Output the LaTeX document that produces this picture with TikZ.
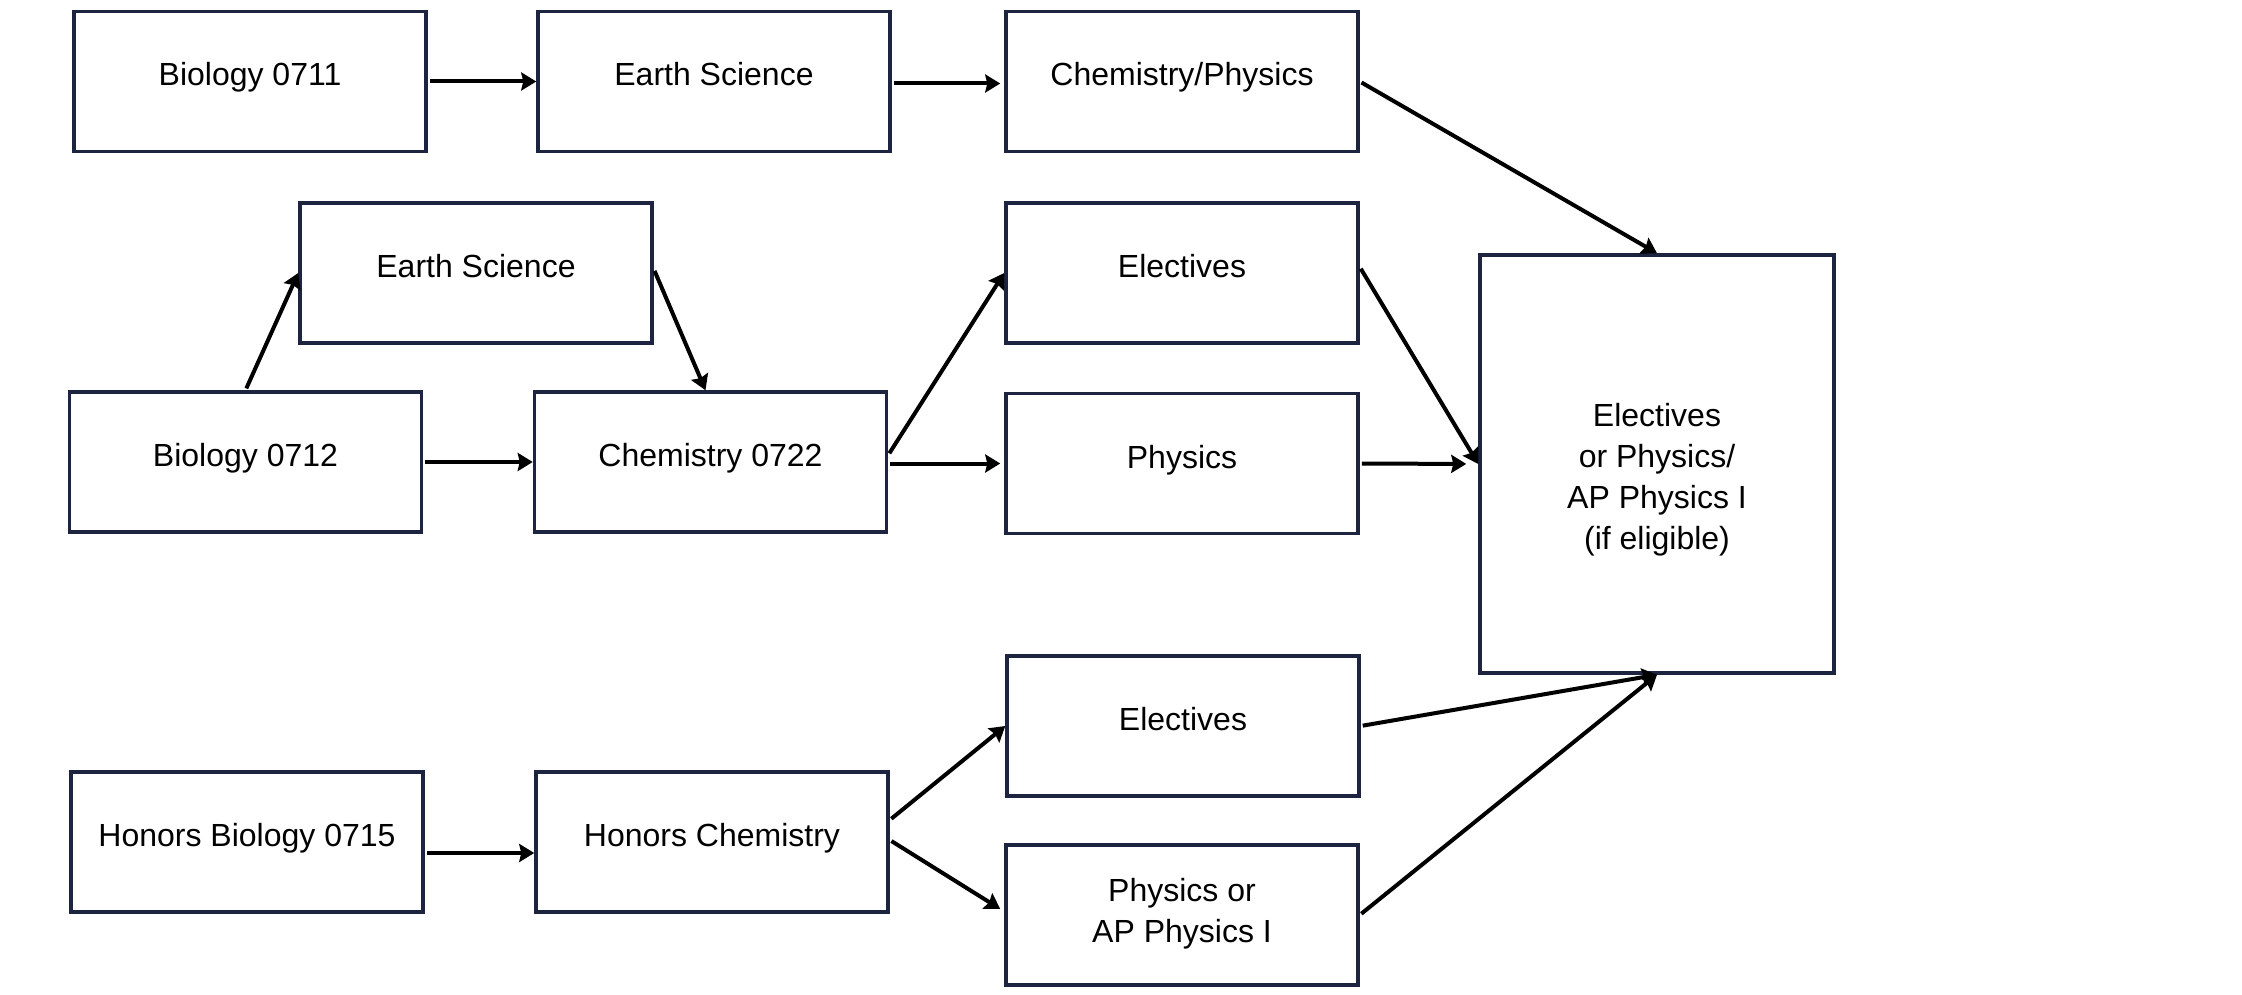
\documentclass[tikz,border=0pt]{standalone}
\usepackage{fontspec}
\setmainfont{Liberation Sans}
\usetikzlibrary{arrows.meta,calc}
\definecolor{navy}{RGB}{28,36,64}
\begin{document}
\begin{tikzpicture}[x=1pt,y=-1pt,
  box/.style={draw=navy,line width=3.5pt,minimum width=352pt,minimum height=140pt,
    inner sep=0pt,align=center,font=\fontsize{32}{41}\selectfont,text=black,
    text height=23pt,text depth=14pt},
  arr/.style={draw=black,line width=4pt,-{Stealth[length=15pt,width=18pt,inset=2pt]},shorten <=2pt}]
\useasboundingbox (0,0) rectangle (2242,995);
\node[box] (b1) at (250,81.5) {Biology 0711};
\node[box] (es1) at (714,81.5) {Earth Science};
\node[box] (cp) at (1182,81.5) {Chemistry/Physics};
\node[box] (es2) at (476,273) {Earth Science};
\node[box] (el1) at (1182,273) {Electives};
\node[box] (b2) at (245.5,462) {Biology 0712};
\node[box] (c2) at (710.5,462) {Chemistry 0722};
\node[box] (ph) at (1182,463.5) {Physics};
\node[box,minimum width=354pt,minimum height=418pt,text height=178pt,text depth=7pt] (big) at (1657,464) {Electives\\or Physics/\\AP Physics I\\(if eligible)};
\node[box] (el2) at (1183,726) {Electives};
\node[box] (hb) at (247,842) {Honors Biology 0715};
\node[box] (hc) at (712,842) {Honors Chemistry};
\node[box,text height=64.5pt,text depth=9pt] (pap) at (1182,915) {Physics or\\AP Physics I};

\draw[arr] (b1.east) -- (es1.west);
\draw[arr] ([yshift=-2pt]es1.east) -- ([xshift=-4pt,yshift=-2pt]cp.west);
\draw[arr] (cp.east) -- (big.north);
\draw[arr] (b2.north) -- (es2.west);
\draw[arr] ([yshift=4pt]es2.east) -- ([xshift=-5pt]c2.north);
\draw[arr] (b2.east) -- (c2.west);
\draw[arr] ([yshift=7pt]c2.east) -- (el1.west);
\draw[arr] (c2.east |- ph.west) -- ([xshift=-4pt]ph.west);
\draw[arr] ([yshift=6pt]el1.east) -- (big.west);
\draw[arr,shorten >=12pt] (ph.east) -- (big.west);
\draw[arr] (el2.east) -- (big.south);
\draw[arr] ([yshift=-11pt]hb.east) -- ([yshift=-11pt]hc.west);
\draw[arr] ([yshift=22pt]hc.east) -- (el2.west);
\draw[arr] ([yshift=2pt]hc.east) -- ([xshift=-4pt,yshift=6pt]pap.west);
\draw[arr] (pap.east) -- (big.south);
\end{tikzpicture}
\end{document}
